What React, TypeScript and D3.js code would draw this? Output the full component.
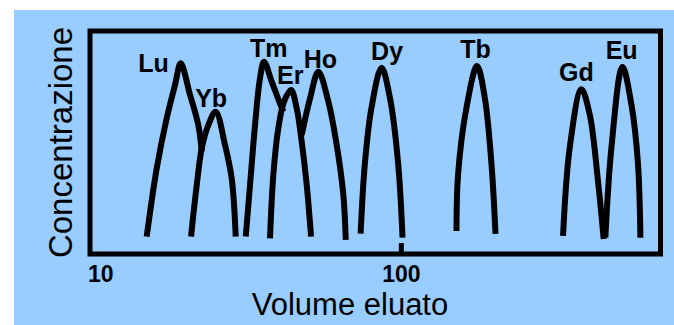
import React from "react";
import * as d3 from "d3";

// Peaks: [volume eluato, concentrazione]
const lu: [number, number][] = [[15.21, 7.8], [16.38, 38.4], [17.64, 60.9], [18.75, 75.8], [19.56, 85.5], [20.96, 71.3], [22.28, 57.8], [22.85, 45.9]];
const yb: [number, number][] = [[21.11, 7.8], [22.02, 30.9], [22.85, 47.4], [23.99, 57.8], [25.33, 63.8], [27.15, 48.9], [28.52, 33.9], [29.38, 7.8]];
const tm: [number, number][] = [[31.64, 7.8], [32.66, 30.9], [33.89, 57.8], [35.17, 78.9], [36.22, 86.2], [38.34, 77.3], [40.56, 68.3], [41.78, 63.8]];
const er: [number, number][] = [[37.86, 7.0], [38.8, 35.4], [40.26, 56.4], [42.0, 68.3], [44.23, 73.5], [46.13, 65.3], [47.86, 50.4], [49.68, 30.9], [51.29, 7.8]];
const ho: [number, number][] = [[47.86, 53.4], [50.91, 69.8], [54.13, 81.7], [58.3, 68.3], [62.01, 48.9], [65.13, 26.5], [66.3, 6.3]];
const dy: [number, number][] = [[74.0, 9.1], [76.35, 40.4], [80.2, 65.6], [86.4, 83.5], [91.9, 70.1], [97.7, 40.4], [100.9, 7.3]];
const tb: [number, number][] = [[150.4, 10.3], [152.2, 35.9], [161.9, 65.6], [175.1, 84.3], [185.4, 70.1], [194.8, 40.4], [200.7, 9.0]];
const gd: [number, number][] = [[330.7, 8.1], [347.5, 47.7], [378.8, 73.9], [402.8, 62.6], [428.3, 32.7], [446.7, 6.7]];
const eu: [number, number][] = [[452.3, 7.3], [473, 47.7], [513, 83.9], [548.3, 67.1], [575.7, 40.4], [586, 7.3]];

const peaks = [lu, yb, tm, er, ho, dy, tb, gd, eu];

const elements = ["Lu", "Yb", "Tm", "Er", "Ho", "Dy", "Tb", "Gd", "Eu"];
// label anchor: [volume, concentrazione at baseline]
const labelVolumes = [16.0, 24.5, 37.5, 44.0, 55.0, 90.0, 173, 365, 510];
const labelConc = [81.6, 66.0, 88.3, 76.2, 83.4, 87.0, 87.9, 77.6, 87.4];

const xTicks = [10, 100];
const xTitle = "Volume eluato";
const yTitle = "Concentrazione";

export default function App() {
  const W = 674;
  const H = 325;
  const left = 90, right = 660.5, top = 31, bottom = 254;
  const x = d3.scaleLog().domain([10, 680]).range([left, right]);
  const y = d3.scaleLinear().domain([0, 100]).range([bottom, top]);
  const line = d3
    .line<[number, number]>()
    .x((d) => x(d[0]))
    .y((d) => y(d[1]))
    .curve(d3.curveCatmullRom.alpha(0.5));

  return (
    <div style={{ position: "absolute", left: 0, top: 0 }}>
      <svg width={W} height={H} style={{ display: "block" }}>
        <rect x={0} y={0} width={W} height={H} fill="#ffffff" />
        <rect x={14} y={10} width={W - 14} height={H - 10} fill="#99ccff" />
        {peaks.map((p, i) => (
          <path key={i} d={line(p) || ""} fill="none" stroke="#000" strokeWidth={6} strokeLinejoin="round" strokeLinecap="butt" />
        ))}
        <rect x={left} y={top} width={right - left} height={bottom - top} fill="none" stroke="#000" strokeWidth={5} />
        <line x1={x(100)} x2={x(100)} y1={bottom} y2={bottom - 11} stroke="#000" strokeWidth={5} />
        {xTicks.map((t, i) => (
          <text
            key={t}
            x={i === 0 ? x(t) - 2 : x(t)}
            y={282}
            textAnchor={i === 0 ? "start" : "middle"}
            fontFamily="'Liberation Sans', Arial, sans-serif"
            fontWeight="bold"
            fontSize={23}
            fill="#000"
          >
            {t}
          </text>
        ))}
        {elements.map((e, i) => (
          <text
            key={e}
            x={x(labelVolumes[i])}
            y={y(labelConc[i])}
            textAnchor="middle"
            fontFamily="'Liberation Sans', Arial, sans-serif"
            fontWeight="bold"
            fontSize={25}
            fill="#000"
          >
            {e}
          </text>
        ))}
        <text x={350} y={315} textAnchor="middle" fontFamily="'Liberation Sans', Arial, sans-serif" fontSize={31} fill="#000">
          {xTitle}
        </text>
        <text
          transform={`translate(72,142.5) rotate(-90)`}
          textAnchor="middle"
          fontFamily="'Liberation Sans', Arial, sans-serif"
          fontSize={33}
          fill="#000"
        >
          {yTitle}
        </text>
      </svg>
    </div>
  );
}
